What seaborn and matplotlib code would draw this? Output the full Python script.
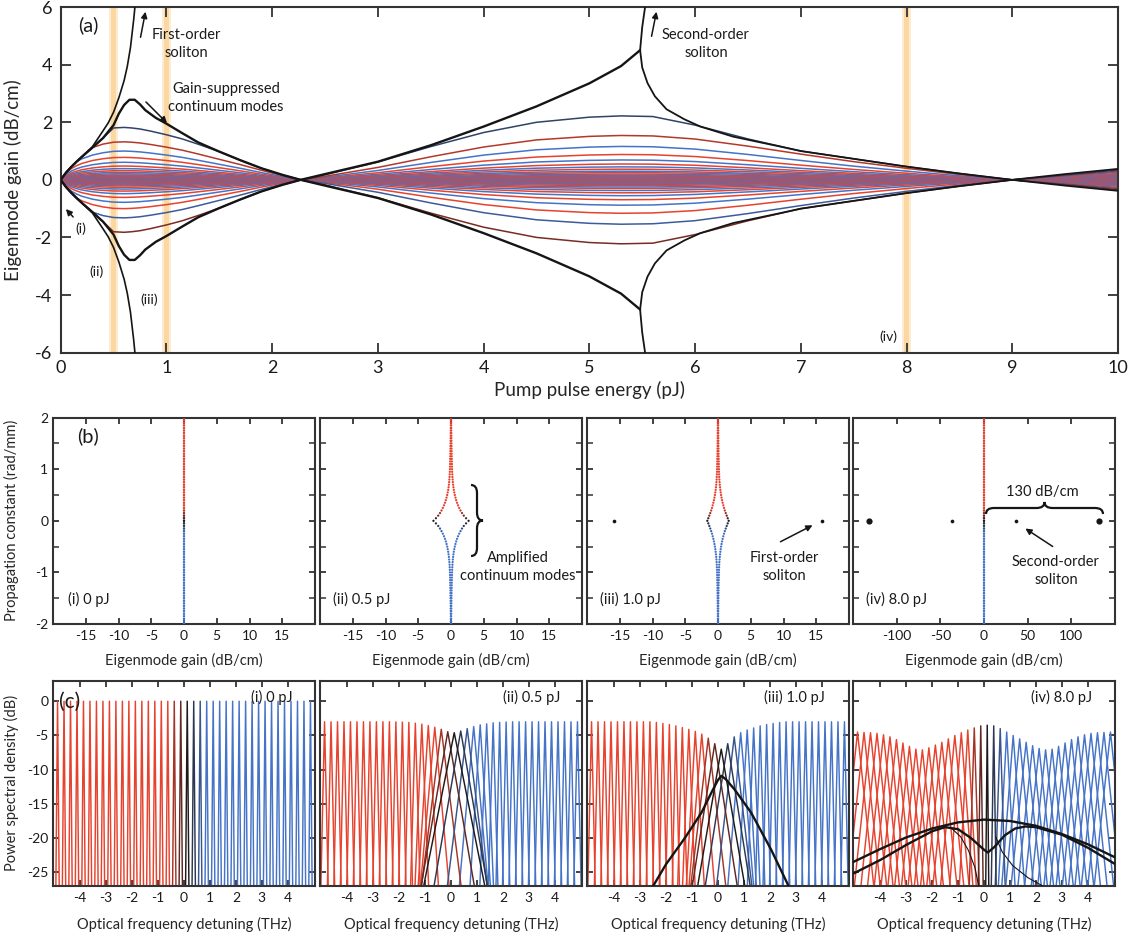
import numpy as np
import matplotlib
matplotlib.use("Agg")
import matplotlib.pyplot as plt
import seaborn as sns
import pandas as pd
from matplotlib.path import Path
from matplotlib.patches import PathPatch

# ======================= DATA =======================
# ---- panel (a): eigenmode gain vs pump energy ----
energy_pj = [0, 0.05, 0.1, 0.15, 0.2, 0.3, 0.4, 0.5, 0.6, 0.67, 0.75, 0.85, 1.0, 1.15, 1.3, 1.5, 1.7, 1.9, 2.1, 2.27,
             2.5, 3.0, 3.5, 4.0, 4.5, 5.0, 5.3, 5.6, 6.0, 6.5, 7.0, 7.5, 8.0, 8.5, 9.0,
             9.5, 10.0]
mode_shape = [0, 0.3, 0.5, 0.63, 0.73, 0.86, 0.94, 0.99, 1.0, 0.99, 0.97, 0.93, 0.86, 0.78, 0.68, 0.54, 0.40, 0.25, 0.11, 0,
              0.08, 0.28, 0.52, 0.74, 0.9, 0.98, 1.0, 0.99, 0.92, 0.76, 0.58, 0.41, 0.26, 0.12, 0,
              0.5, 1.0]
envelope_gain = [0, 0.25, 0.45, 0.63, 0.8, 1.12, 1.45, 1.9, 2.6, 2.78, 2.62, 2.3, 1.95, 1.62, 1.3, 0.98, 0.68, 0.4, 0.17, 0,
                 0.2, 0.63, 1.2, 1.85, 2.55, 3.35, 3.95, 3.0, 1.9, 1.42, 1.0, 0.73, 0.46, 0.22, 0,
                 0.2, 0.38]
zero_crossings = [2.27, 9.0]
mode_peak1 = [1.82, 1.32, 1.00, 0.78, 0.61, 0.48, 0.39, 0.32, 0.26, 0.21, 0.17, 0.14, 0.11, 0.09, 0.07, 0.055, 0.04, 0.03, 0.02, 0.01]
mode_peak2 = [2.22, 1.54, 1.16, 0.88, 0.69, 0.55, 0.45, 0.37, 0.30, 0.25, 0.20, 0.16, 0.13, 0.10, 0.08, 0.06, 0.045, 0.03, 0.02, 0.01]
mode_peak3 = [0.34, 0.30, 0.26, 0.22, 0.19, 0.16, 0.13, 0.11, 0.09, 0.07, 0.06, 0.05, 0.04, 0.03, 0.02, 0.015, 0.01, 0.006, 0.003, 0.001]

outer_e = [0, 0.05, 0.1, 0.15, 0.2, 0.3, 0.4, 0.5, 0.55, 0.6, 0.65, 0.7, 0.75, 0.8, 0.9, 1.0, 1.15, 1.3, 1.5, 1.7, 1.9, 2.1, 2.27,
           2.5, 3.0, 3.5, 4.0, 4.5, 5.0, 5.3, 5.48]
outer_g = [0, 0.25, 0.45, 0.63, 0.8, 1.12, 1.45, 1.9, 2.3, 2.6, 2.78, 2.78, 2.62, 2.42, 2.15, 1.95, 1.62, 1.3, 0.98, 0.68, 0.4, 0.17, 0,
           0.2, 0.63, 1.2, 1.85, 2.55, 3.35, 3.95, 4.5]
sol1_e = [0, 0.05, 0.1, 0.15, 0.2, 0.3, 0.4, 0.45, 0.5, 0.55, 0.6, 0.63, 0.66, 0.69, 0.71]
sol1_g = [0, 0.25, 0.45, 0.63, 0.8, 1.15, 1.7, 1.98, 2.35, 2.85, 3.45, 3.94, 4.6, 5.55, 6.3]
sol2_e = [5.535, 5.5, 5.48, 5.5, 5.55, 5.62, 5.73, 5.9, 6.05, 6.36, 6.8, 7.0, 7.5, 8.0, 8.5, 9.0, 9.5, 10.0]
sol2_g = [6.2, 5.3, 4.5, 3.9, 3.36, 2.9, 2.45, 2.1, 1.85, 1.5, 1.16, 1.0, 0.73, 0.46, 0.22, 0, 0.2, 0.38]
band_energies = [0.5, 1.0, 8.0]

# ---- panel (b): propagation constant vs gain ----
beta_grid = np.linspace(-2, 2, 81)
gain_b_i = [0.0] * 41
gain_b_ii = [2.68, 2.3, 1.95, 1.68, 1.45, 1.25, 1.07, 0.92, 0.79, 0.68, 0.58, 0.5, 0.43, 0.37, 0.32, 0.28, 0.25, 0.22, 0.2, 0.18,
             0.16, 0.15, 0.14, 0.13, 0.12, 0.11, 0.1, 0.09, 0.08, 0.08, 0.07, 0.06, 0.06, 0.05, 0.05, 0.04, 0.04, 0.03, 0.03, 0.03, 0.02]
gain_b_iii = [1.63, 1.48, 1.33, 1.18, 1.04, 0.92, 0.81, 0.71, 0.62, 0.54, 0.47, 0.41, 0.36, 0.31, 0.27, 0.24, 0.21, 0.19, 0.17, 0.15,
              0.14, 0.13, 0.12, 0.11, 0.1, 0.09, 0.08, 0.08, 0.07, 0.06, 0.06, 0.05, 0.05, 0.04, 0.04, 0.04, 0.03, 0.03, 0.03, 0.02, 0.02]
gain_b_iv = [0.0] * 41
soliton_b_iii = [(-15.9, 0.0, 7), (15.85, 0.0, 7)]
soliton_b_iv = [(-132, 0.0, 20), (-36.3, 0.0, 7), (36.4, 0.0, 7), (132, 0.0, 20)]

# ---- panel (c): spectra of the eigenmodes ----
mode_freq = [-4.875, -4.625, -4.375, -4.125, -3.875, -3.625, -3.375, -3.125, -2.875, -2.625,
             -2.375, -2.125, -1.875, -1.625, -1.375, -1.125, -0.875, -0.625, -0.375, -0.125,
             0.125, 0.375, 0.625, 0.875, 1.125, 1.375, 1.625, 1.875, 2.125, 2.375,
             2.625, 2.875, 3.125, 3.375, 3.625, 3.875, 4.125, 4.375, 4.625, 4.875]
peak_i = [0.0] * 40
slope_i = [420.0] * 40
peak_ii = [-3.0, -3.0, -3.0, -3.0, -3.0, -3.0, -3.0, -3.0, -3.0, -3.0,
           -3.0, -3.02, -3.05, -3.1, -3.2, -3.35, -3.55, -3.8, -4.1, -4.45,
           -4.6, -4.35, -4.0, -3.7, -3.45, -3.3, -3.15, -3.08, -3.03, -3.0,
           -3.0, -3.0, -3.0, -3.0, -3.0, -3.0, -3.0, -3.0, -3.0, -3.0]
slope_ii = [170, 170, 170, 170, 170, 170, 170, 170, 170, 170,
            170, 170, 170, 170, 130, 90, 60, 42, 30, 22,
            19, 22, 30, 42, 60, 90, 130, 170, 170, 170,
            170, 170, 170, 170, 170, 170, 170, 170, 170, 170]
peak_iii = [-3.0, -3.0, -3.0, -3.0, -3.0, -3.0, -3.0, -3.0, -3.0, -3.0,
            -3.1, -3.25, -3.4, -3.6, -3.85, -4.1, -4.4, -4.8, -5.4, -6.2,
            -7.0, -6.2, -5.2, -4.6, -4.2, -3.9, -3.6, -3.4, -3.25, -3.1,
            -3.0, -3.0, -3.0, -3.0, -3.0, -3.0, -3.0, -3.0, -3.0, -3.0]
slope_iii = [170, 170, 170, 170, 170, 170, 170, 170, 170, 170,
             170, 170, 170, 170, 130, 95, 65, 45, 32, 24,
             22, 24, 32, 45, 65, 95, 130, 170, 170, 170,
             170, 170, 170, 170, 170, 170, 170, 170, 170, 170]
peak_iv = [-4.5, -4.55, -4.6, -4.7, -4.9, -5.2, -5.6, -6.1, -6.6, -7.0,
           -7.1, -6.8, -6.4, -6.0, -5.5, -5.0, -4.6, -4.2, -3.9, -3.6,
           -3.5, -3.6, -4.0, -4.5, -5.0, -5.5, -6.0, -6.5, -6.9, -7.1,
           -7.0, -6.6, -6.1, -5.6, -5.2, -4.9, -4.7, -4.6, -4.55, -4.5]
slope_iv = [36, 36, 36, 36, 36, 36, 36, 36, 36, 36,
            36, 36, 36, 36, 36, 40, 50, 70, 120, 250,
            400, 250, 120, 70, 50, 40, 36, 36, 36, 36,
            36, 36, 36, 36, 36, 36, 36, 36, 36, 36]
sol_c_iii_f = [-2.8, -2.5, -2.0, -1.28, -0.64, -0.26, 0.0, 0.13, 0.3, 0.64, 1.28, 2.05, 2.72, 3.0]
sol_c_iii_db = [-28.6, -27.0, -23.8, -20.0, -16.3, -13.4, -11.5, -10.9, -11.4, -12.9, -16.3, -21.7, -27.0, -28.6]
sol_c_iv_a_f = [-5.1, -4, -3, -2, -1, 0, 1, 2, 3, 4, 5.1]
sol_c_iv_a_db = [-23.6, -21.6, -19.9, -18.6, -17.7, -17.3, -17.5, -18.2, -19.4, -20.9, -22.9]
sol_c_iv_b_f = [-5.1, -4, -3, -2, -1.5, -1.0, -0.5, 0.0, 0.15, 0.4, 0.8, 1.2, 1.6, 2.0, 3.0, 4.0, 5.1]
sol_c_iv_b_db = [-25.3, -23.2, -21.0, -19.0, -18.4, -18.7, -20.0, -21.7, -22.1, -21.3, -19.6, -18.6, -18.3, -18.4, -19.5, -21.4, -23.9]
thin_c_iv_l_f = [-1.3, -0.9, -0.6, -0.35, -0.18]
thin_c_iv_l_db = [-18.4, -19.8, -21.8, -24.3, -27.5]
thin_c_iv_r_f = [0.45, 0.7, 1.1, 1.7, 2.5]
thin_c_iv_r_db = [-19.8, -22.0, -24.0, -25.8, -27.5]

# ======================= STYLE =======================
sns.set_theme(style="ticks")
plt.rcParams["font.family"] = ["Lato", "DejaVu Sans"]
plt.rcParams["axes.unicode_minus"] = False

RED = np.array([0.90, 0.26, 0.18])
BLUE = np.array([0.27, 0.45, 0.78])
DARK = np.array([0.12, 0.10, 0.10])
SPINE = "#333333"


def mix(base, w):
    w = max(0.0, min(1.0, w))
    return tuple(DARK * (1 - w) + base * w)


W, H = 1137, 933
fig = plt.figure(figsize=(W / 100, H / 100), dpi=100)


def box(l, t, r, b):
    return [l / W, 1 - b / H, (r - l) / W, (b - t) / H]


def fx(px):
    return px / W


def fy(py):
    return 1 - py / H


def style(ax, fs, length):
    for s in ax.spines.values():
        s.set_linewidth(1.5)
        s.set_color(SPINE)
    ax.tick_params(which="major", direction="in", top=True, right=True, width=1.3,
                   color=SPINE, labelsize=fs, length=length, labelcolor="#1a1a1a")
    ax.tick_params(which="minor", direction="in", top=True, right=True, width=1.1,
                   color=SPINE, length=length * 0.7)


# ======================= PANEL (a) =======================
ax = fig.add_axes(box(60.7, 7, 1118, 352.7))
ax.set_xlim(0, 10)
ax.set_ylim(-6, 6)
for e in band_energies:
    ax.axvspan(e - 0.045, e + 0.045, color="#fdecd2", lw=0, zorder=0)
    ax.axvspan(e - 0.025, e + 0.025, color="#fbd8a2", lw=0, zorder=0)

E = np.array(energy_pj)
shape = np.array(mode_shape)
env = np.array(envelope_gain)
hump = (E > zero_crossings[0]).astype(int) + (E > zero_crossings[1]).astype(int)
n_modes = len(mode_peak1)
for r in reversed(range(n_modes)):
    amps = np.array([mode_peak1[r], mode_peak2[r], mode_peak3[r]])[hump]
    g = np.minimum(amps * shape, env)
    w = 0.45 + 0.3 * r
    up_col = mix(BLUE, w) if r % 2 == 0 else mix(RED, w)
    lo_col = mix(RED, w) if r % 2 == 0 else mix(BLUE, w)
    ax.plot(E, g, color=up_col, lw=1.1, zorder=2)
    ax.plot(E, -g, color=lo_col, lw=1.1, zorder=2)

for sgn in (1, -1):
    sns.lineplot(x=outer_e, y=sgn * np.array(outer_g), ax=ax, color="#151515", lw=1.7, sort=False,
                 estimator=None, zorder=4)
    sns.lineplot(x=sol1_e, y=sgn * np.array(sol1_g), ax=ax, color="#151515", lw=1.2, sort=False,
                 estimator=None, zorder=4)
    sns.lineplot(x=sol2_e, y=sgn * np.array(sol2_g), ax=ax, color="#151515", lw=1.3, sort=False,
                 estimator=None, zorder=4)

ax.set_xticks(range(0, 11))
ax.set_yticks([-6, -4, -2, 0, 2, 4, 6])
style(ax, 13, 7)
ax.tick_params(axis="x", pad=5)
ax.tick_params(axis="y", pad=6)
ax.set_xlabel("Pump pulse energy (pJ)", fontsize=13.5)
ax.set_ylabel("Eigenmode gain (dB/cm)", fontsize=13.5)
ax.xaxis.set_label_coords(0.5, -0.083)
ax.yaxis.set_label_coords(-0.037, 0.5)

# ======================= PANELS (b) and (c) axes =======================
cols = [(53, 315), (320, 582), (587, 849), (853, 1115)]
axb = [fig.add_axes(box(l, 417.6, r, 624)) for l, r in cols]
axc = [fig.add_axes(box(l, 680.7, r, 886)) for l, r in cols]

gains_b = [gain_b_i, gain_b_ii, gain_b_iii, gain_b_iv]
for i, a in enumerate(axb):
    gl = gains_b[i]
    xs, ys, hues = [], [], []
    palette = {}
    for j, b in enumerate(beta_grid):
        gi = gl[int(round(abs(b) / 0.05))]
        w = abs(b) / 0.25
        col = mix(RED, w) if b > 0 else mix(BLUE, w)
        key = str(j)
        palette[key] = col
        for s in (1, -1):
            xs.append(s * gi)
            ys.append(b)
            hues.append(key)
    df = pd.DataFrame({"gain": xs, "beta": ys, "mode": hues})
    sns.scatterplot(data=df, x="gain", y="beta", hue="mode", palette=palette, s=2.6, linewidth=0,
                    legend=False, ax=a, zorder=3)
    a.set_ylim(-2, 2)
    if i < 3:
        a.set_xlim(-20, 20)
        a.set_xticks([-15, -10, -5, 0, 5, 10, 15])
    else:
        a.set_xlim(-150, 150)
        a.set_xticks([-100, -50, 0, 50, 100])
    a.set_yticks([-2, -1, 0, 1, 2])
    a.set_yticks([-1.5, -0.5, 0.5, 1.5], minor=True)
    style(a, 10, 4.5)
    a.tick_params(which="minor", length=4.5)
    a.tick_params(axis="x", pad=4)
    a.set_xlabel("Eigenmode gain (dB/cm)", fontsize=10.5)
    a.xaxis.set_label_coords(0.5, -0.14)
    if i == 0:
        a.set_ylabel("Propagation constant (rad/mm)", fontsize=10.5)
        a.yaxis.set_label_coords(-0.13, 0.5)
    else:
        a.set_ylabel("")
        a.tick_params(labelleft=False)

for (gx, gy, sz) in soliton_b_iii:
    axb[2].scatter([gx], [gy], s=sz, color="#151515", lw=0, zorder=4)
for (gx, gy, sz) in soliton_b_iv:
    axb[3].scatter([gx], [gy], s=sz, color="#151515", lw=0, zorder=4)

peaks_c = [peak_i, peak_ii, peak_iii, peak_iv]
slopes_c = [slope_i, slope_ii, slope_iii, slope_iv]
order = sorted(range(40), key=lambda k: -abs(k - 20))
for i, a in enumerate(axc):
    for k in order:
        d = k - 20
        col = mix(RED, -d / 3) if d < 0 else mix(BLUE, d / 3)
        f0, p, s = mode_freq[k], peaks_c[i][k], slopes_c[i][k]
        dx = (p + 30) / s
        a.plot([f0 - dx, f0, f0 + dx], [-30, p, -30], color=col, lw=1.05, zorder=2)
    a.set_xlim(-5.05, 5.05)
    a.set_ylim(-27, 3)
    a.set_xticks([-4, -3, -2, -1, 0, 1, 2, 3, 4])
    a.set_yticks([0, -5, -10, -15, -20, -25])
    style(a, 10, 4.5)
    a.tick_params(axis="x", pad=4)
    a.set_xlabel("Optical frequency detuning (THz)", fontsize=10.5)
    a.xaxis.set_label_coords(0.5, -0.15)
    if i == 0:
        a.set_ylabel("Power spectral density (dB)", fontsize=10.5)
        a.yaxis.set_label_coords(-0.13, 0.5)
    else:
        a.set_ylabel("")
        a.tick_params(labelleft=False)

sns.lineplot(x=sol_c_iii_f, y=sol_c_iii_db, ax=axc[2], color="#151515", lw=1.7, sort=False, estimator=None, zorder=4)
sns.lineplot(x=sol_c_iv_a_f, y=sol_c_iv_a_db, ax=axc[3], color="#151515", lw=1.7, sort=False, estimator=None, zorder=4)
sns.lineplot(x=sol_c_iv_b_f, y=sol_c_iv_b_db, ax=axc[3], color="#151515", lw=1.7, sort=False, estimator=None, zorder=4)
sns.lineplot(x=thin_c_iv_l_f, y=thin_c_iv_l_db, ax=axc[3], color="#151515", lw=0.8, sort=False, estimator=None, zorder=4)
sns.lineplot(x=thin_c_iv_r_f, y=thin_c_iv_r_db, ax=axc[3], color="#151515", lw=0.8, sort=False, estimator=None, zorder=4)

# ======================= ANNOTATIONS =======================
TXT = "#1a1a1a"


def ftext(px, py, s, fs, ha="center", va="center", **kw):
    fig.text(fx(px), fy(py), s, fontsize=fs, ha=ha, va=va, color=TXT, **kw)


def farrow(p0, p1):
    fig.add_artist(matplotlib.patches.FancyArrowPatch(
        (fx(p0[0]), fy(p0[1])), (fx(p1[0]), fy(p1[1])), transform=fig.transFigure,
        arrowstyle="-|>", mutation_scale=9, lw=1.1, color="#151515"))


def brace_h(x0, x1, yb, h):
    xm = (x0 + x1) / 2
    q = 8
    verts = [(x0, yb), (x0, yb - h / 2), (x0 + q, yb - h / 2),
             (xm - q, yb - h / 2), (xm, yb - h / 2), (xm, yb - h),
             (xm, yb - h / 2), (xm + q, yb - h / 2),
             (x1 - q, yb - h / 2), (x1, yb - h / 2), (x1, yb)]
    verts = [(fx(a), fy(b)) for a, b in verts]
    codes = [Path.MOVETO, Path.CURVE3, Path.CURVE3, Path.LINETO, Path.CURVE3, Path.CURVE3,
             Path.CURVE3, Path.CURVE3, Path.LINETO, Path.CURVE3, Path.CURVE3]
    fig.add_artist(PathPatch(Path(verts, codes), fill=False, lw=1.6, color="#151515",
                             transform=fig.transFigure))


def brace_v(xb, y0, y1, w):
    ym = (y0 + y1) / 2
    q = 8
    verts = [(xb, y0), (xb + w / 2, y0), (xb + w / 2, y0 + q),
             (xb + w / 2, ym - q), (xb + w / 2, ym), (xb + w, ym),
             (xb + w / 2, ym), (xb + w / 2, ym + q),
             (xb + w / 2, y1 - q), (xb + w / 2, y1), (xb, y1)]
    verts = [(fx(a), fy(b)) for a, b in verts]
    codes = [Path.MOVETO, Path.CURVE3, Path.CURVE3, Path.LINETO, Path.CURVE3, Path.CURVE3,
             Path.CURVE3, Path.CURVE3, Path.LINETO, Path.CURVE3, Path.CURVE3]
    fig.add_artist(PathPatch(Path(verts, codes), fill=False, lw=1.6, color="#151515",
                             transform=fig.transFigure))


# (a)
ftext(88, 25, "(a)", 14.5)
ftext(186, 44, "First-order\nsoliton", 10.5, linespacing=1.3)
farrow((140, 40), (146, 9))
ftext(226, 98, "Gain-suppressed\ncontinuum modes", 10.5, linespacing=1.3)
farrow((144, 100), (169, 125))
ftext(706, 44, "Second-order\nsoliton", 10.5, linespacing=1.3)
farrow((651, 39), (657, 9))
ftext(81, 229, "(i)", 10)
farrow((75, 219), (64, 207))
ftext(97, 272, "(ii)", 10)
ftext(149, 300, "(iii)", 10)
ftext(888, 337, "(iv)", 10)

# (b)
ftext(88, 436, "(b)", 14.5)
ftext(68, 599, "(i) 0 pJ", 10.5, ha="left")
ftext(333, 599, "(ii) 0.5 pJ", 10.5, ha="left")
ftext(600, 599, "(iii) 1.0 pJ", 10.5, ha="left")
ftext(866, 599, "(iv) 8.0 pJ", 10.5, ha="left")
brace_v(471, 485, 556, 12)
ftext(518, 567, "Amplified\ncontinuum modes", 10.5, linespacing=1.3)
ftext(784, 567, "First-order\nsoliton", 10.5, linespacing=1.3)
farrow((778, 543), (815, 524))
brace_h(986, 1103, 514, 12)
ftext(1042, 492, "130 dB/cm", 10.5)
ftext(1056, 571, "Second-order\nsoliton", 10.5, linespacing=1.3)
farrow((1055, 548), (1023, 527))

# (c)
ftext(70, 702, "(c)", 15)
ftext(293, 697, "(i) 0 pJ", 10.5, ha="right")
ftext(560, 697, "(ii) 0.5 pJ", 10.5, ha="right")
ftext(825, 697, "(iii) 1.0 pJ", 10.5, ha="right")
ftext(1092, 697, "(iv) 8.0 pJ", 10.5, ha="right")

fig.savefig("out.png", dpi=100)
